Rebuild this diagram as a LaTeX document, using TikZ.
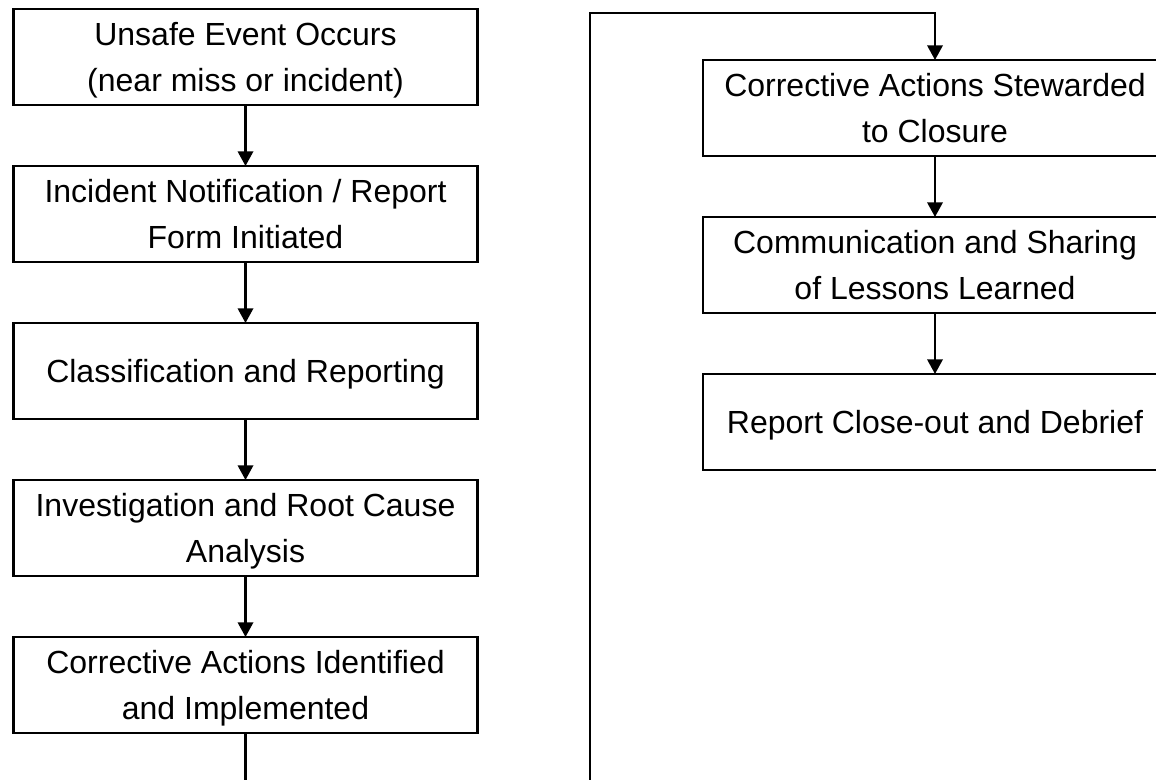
\documentclass[tikz,border=0pt]{standalone}
\usepackage{fontspec}
\setmainfont{Liberation Sans}
\usetikzlibrary{arrows.meta}

\begin{document}
\begin{tikzpicture}[
  x=0.75pt, y=-0.75pt,
  stepbox/.style={draw=black, line width=1.8pt, fill=white,
    minimum width=348pt, minimum height=72pt, inner sep=0pt, outer sep=0pt,
    text depth=0pt, align=center, font=\fontsize{24pt}{34pt}\selectfont},
  flow/.style={draw=black, line width=1.8pt,
    -{Triangle[length=11pt, width=11.5pt]}},
  plain/.style={draw=black, line width=1.8pt}
]
\useasboundingbox (0,0) rectangle (1156,779);
\clip (0,0) rectangle (1156,779);
\fill[white] (0,0) rectangle (1156,779);

% left column
\node[stepbox] (l1) at (245.5,57)  {Unsafe Event Occurs\\(near miss or incident)};
\node[stepbox] (l2) at (245.5,214) {Incident Notification / Report\\Form Initiated};
\node[stepbox] (l3) at (245.5,371) {Classification and Reporting};
\node[stepbox] (l4) at (245.5,528) {Investigation and Root Cause\\Analysis};
\node[stepbox] (l5) at (245.5,685) {Corrective Actions Identified\\and Implemented};

% right column
\node[stepbox] (r1) at (935,108) {Corrective Actions Stewarded\\to Closure};
\node[stepbox] (r2) at (935,265) {Communication and Sharing\\of Lessons Learned};
\node[stepbox] (r3) at (935,422) {Report Close-out and Debrief};

% connectors
\draw[flow] (l1) -- (l2);
\draw[flow] (l2) -- (l3);
\draw[flow] (l3) -- (l4);
\draw[flow] (l4) -- (l5);

\coordinate (lbot) at (245.5,790);
\coordinate (rbot) at (590,790);
\coordinate (ltop) at (590,13);
\draw[plain] (l5) -- (lbot);
\draw[flow] (rbot) -- (ltop) -| (r1.north);

\draw[flow] (r1) -- (r2);
\draw[flow] (r2) -- (r3);
\end{tikzpicture}
\end{document}
